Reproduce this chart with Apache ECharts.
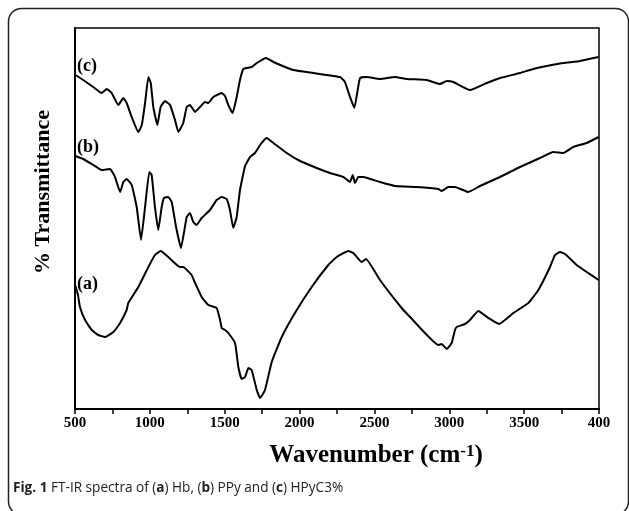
<!DOCTYPE html>
<html>
<head>
<meta charset="utf-8">
<script src="https://cdn.jsdelivr.net/npm/echarts@6/dist/echarts.min.js"></script>
<style>
html,body{margin:0;padding:0;background:#fff;}
#chart{width:629px;height:511px;}
</style>
</head>
<body>
<div id="chart"></div>
<script>
// x tick labels as printed (the last one is clipped in the original figure)
const xTickLabels = ['500','1000','1500','2000','2500','3000','3500','400'];

// (a) Hb
const wavenumbersA = [503,520,533,567,612,656,700,756,801,845,856,923,990,1034,1072,1123,1201,1223,1279,1302,1346,1390,1446,1469,1480,1502,1524,1569,1591,1613,1636,1658,1680,1714,1736,1769,1814,1881,1969,2081,2192,2248,2325,2359,2415,2444,2537,2682,2738,2927,2949,2983,3016,3038,3050,3105,3138,3194,3261,3332,3428,3528,3595,3673,3706,3740,3773,3851,3918,3997];
const transA = [123,114,102,89,79,74,72,77,86,99,106,122,142,154,158,152,142,142,134,126,112,104,101,89,81,79,76,66,42,30,32,41,39,19,11,19,47,72,96,122,144,152,158,156,147,150,129,101,92,64,65,60,66,79,82,85,89,98,91,85,96,106,119,142,154,157,155,144,137,129];

// (b) PPy
const wavenumbersB = [503,555,622,678,734,767,801,823,845,879,912,941,968,996,1012,1034,1056,1079,1094,1123,1146,1175,1208,1246,1268,1290,1313,1346,1402,1446,1480,1513,1535,1557,1580,1602,1636,1669,1702,1736,1780,1825,1914,2003,2114,2203,2292,2337,2355,2370,2392,2426,2537,2637,2782,2927,2949,2993,3038,3127,3205,3339,3472,3606,3695,3762,3828,3918,3997];
const transB = [253,250,244,239,240,232,217,227,230,224,202,169,202,237,234,202,179,202,211,212,207,182,161,192,196,187,184,191,199,209,212,210,199,181,192,219,243,252,256,264,271,266,256,248,241,236,232,227,234,226,232,232,227,223,222,220,218,222,222,217,223,232,242,251,257,256,262,266,272];

// (c) HPyC3%
const wavenumbersC = [503,555,622,678,712,745,789,823,845,879,923,946,968,990,1006,1023,1050,1072,1101,1135,1168,1190,1223,1246,1268,1302,1335,1368,1390,1424,1480,1502,1524,1553,1580,1602,1624,1647,1680,1714,1776,1825,1958,2092,2270,2303,2337,2366,2386,2404,2448,2537,2637,2716,2849,2938,2983,3027,3138,3250,3339,3472,3561,3651,3762,3873,3997];
const transC = [334,329,322,316,320,316,304,311,306,292,277,284,306,332,326,302,284,302,308,304,289,277,286,302,304,297,302,307,306,312,316,313,304,296,312,329,340,341,342,346,351,347,339,336,332,327,312,301,317,331,332,330,332,330,329,325,328,327,319,326,331,336,340,343,346,348,352];

const curveLabels = ['(a)','(b)','(c)'];

function zip(xs, ys){ return xs.map((x,i)=>[x, ys[i]]); }

const chart = echarts.init(document.getElementById('chart'), null, {renderer:'canvas'});
const serif = 'Liberation Serif';
const lineStyle = {color:'#000', width:2};

chart.setOption({
  backgroundColor:'#fff',
  animation:false,
  grid:{left:75, right:30, top:28, bottom:102, show:true, borderColor:'#000', borderWidth:1.5, backgroundColor:'transparent'},
  xAxis:{
    type:'value', min:500, max:4000, interval:500,
    axisLine:{show:true, onZero:false, lineStyle:{color:'#000', width:2}},
    axisTick:{show:true, length:5, inside:false, lineStyle:{color:'#000', width:1.5}},
    minorTick:{show:true, splitNumber:2, length:5, lineStyle:{color:'#000', width:1.5}},
    splitLine:{show:false},
    axisLabel:{
      margin:7, color:'#000', fontFamily:serif, fontWeight:'bold', fontSize:15,
      formatter:function(v){ return xTickLabels[Math.round((v-500)/500)]; }
    }
  },
  yAxis:{
    type:'value', min:0, max:381,
    axisLine:{show:true, lineStyle:{color:'#000', width:2}},
    axisTick:{show:false}, axisLabel:{show:false}, splitLine:{show:false}
  },
  series:[
    {type:'line', data:zip(wavenumbersA, transA), showSymbol:false, smooth:0.12, lineStyle:lineStyle},
    {type:'line', data:zip(wavenumbersB, transB), showSymbol:false, smooth:0.12, lineStyle:lineStyle},
    {type:'line', data:zip(wavenumbersC, transC), showSymbol:false, smooth:0.12, lineStyle:lineStyle}
  ],
  graphic:[
    {type:'rect', z:-1, silent:true, shape:{x:8.5, y:8.5, width:620, height:506, r:13}, style:{fill:'none', stroke:'#222', lineWidth:1.5}},
    {type:'text', left:77, top:275, style:{text:curveLabels[0], font:'bold 18px "Liberation Serif"', fill:'#000'}},
    {type:'text', left:77, top:138, style:{text:curveLabels[1], font:'bold 18px "Liberation Serif"', fill:'#000'}},
    {type:'text', left:77, top:57, style:{text:curveLabels[2], font:'bold 18px "Liberation Serif"', fill:'#000'}},
    {type:'text', x:43, y:192, rotation:Math.PI/2, style:{text:'% Transmittance', font:'bold 22px "Liberation Serif"', fill:'#000', align:'center', verticalAlign:'middle'}},
    {type:'text', x:376, y:456, style:{
      text:'Wavenumber (cm{sup|-1})', align:'center', verticalAlign:'middle',
      font:'bold 25px "Liberation Serif"', fill:'#000',
      rich:{sup:{fontSize:17, fontWeight:'bold', fontFamily:serif, verticalAlign:'top', fill:'#000', padding:[0,0,9,0]}}
    }},
    {type:'text', x:13, y:488, style:{
      text:'{b|Fig. 1} FT-IR spectra of ({b|a}) Hb, ({b|b}) PPy and ({b|c}) HPyC3%',
      verticalAlign:'middle', font:'13.6px "Open Sans"', fill:'#222',
      rich:{b:{fontWeight:'bold', fontFamily:'Open Sans', fontSize:13.6, fill:'#222'}}
    }}
  ]
});
</script>
</body>
</html>
